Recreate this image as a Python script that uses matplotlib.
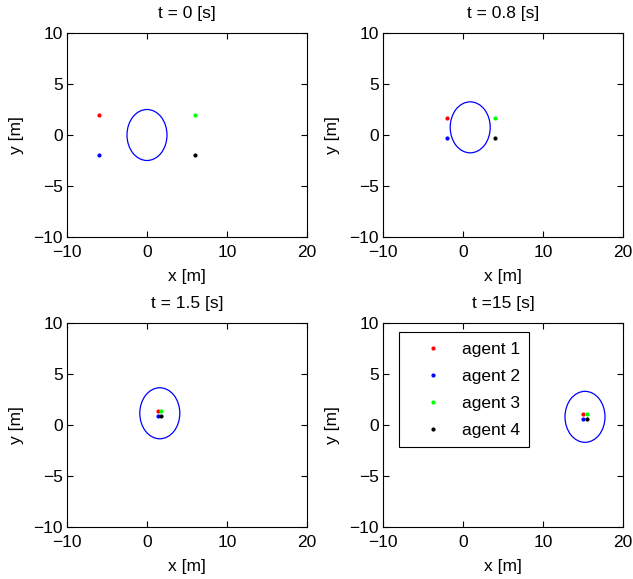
import numpy as np
import matplotlib
matplotlib.use('Agg')
import matplotlib.pyplot as plt
from matplotlib.patches import Ellipse

plt.rcParams['font.family'] = ['Liberation Sans', 'DejaVu Sans']

titles = ['t = 0 [s]', 't = 0.8 [s]', 't = 1.5 [s]', 't =15 [s]']
agent_names = ['agent 1', 'agent 2', 'agent 3', 'agent 4']
agent_colors = ['#ff0000', '#0000ff', '#00ff00', '#000000']

# agent positions per snapshot (x, y)
agents_x = [[-6, -6, 6, 6],
            [-2.0, -2.0, 4.0, 4.0],
            [1.4, 1.4, 1.75, 1.75],
            [15.0, 15.0, 15.5, 15.5]]
agents_y = [[2, -2, 2, -2],
            [1.7, -0.3, 1.7, -0.3],
            [1.4, 0.9, 1.4, 0.9],
            [1.1, 0.55, 1.1, 0.55]]

# circle centre per snapshot and radius
circle_cx = [0.0, 0.9, 1.6, 15.25]
circle_cy = [0.0, 0.75, 1.15, 0.8]
radius = 2.5

xticks = [-10, 0, 10, 20]
yticks = [-10, -5, 0, 5, 10]

fig = plt.figure(figsize=(6.33, 5.79), dpi=100)
W, H = 633, 579
boxes = [(67, 33), (383, 33), (67, 323), (383, 323)]

for k in range(4):
    l, t = boxes[k]
    ax = fig.add_axes([l/W, 1 - (t + 204)/H, 240/W, 204/H])
    ax.add_patch(Ellipse((circle_cx[k], circle_cy[k]), 2*radius, 2*radius,
                         fill=False, edgecolor='#0000ff', lw=0.9))
    for i in range(4):
        ax.plot(agents_x[k][i], agents_y[k][i], '.', color=agent_colors[i],
                ms=4, label=agent_names[i])
    ax.set_xlim(-10, 20)
    ax.set_ylim(-10, 10)
    ax.set_xticks(xticks)
    ax.set_yticks(yticks)
    ax.tick_params(direction='in', top=True, right=True, labelsize=12.5, length=4,
                   width=0.8)
    ax.tick_params(axis='x', pad=6)
    ax.tick_params(axis='y', pad=3)
    for s in ax.spines.values():
        s.set_linewidth(0.8)
    ax.set_title(titles[k], fontsize=12.5, pad=11)
    ax.set_xlabel('x [m]', fontsize=12.5, labelpad=6)
    ax.set_ylabel('y [m]', fontsize=12.5, labelpad=7)
    if k == 3:
        leg = ax.legend(loc='upper left', bbox_to_anchor=(16/240, 1 - 9/204),
                        borderaxespad=0, fontsize=12.5,
                        fancybox=False, framealpha=1, edgecolor='black',
                        handlelength=2.8, handletextpad=0.25, borderpad=0.55,
                        labelspacing=0.68, markerscale=1.0)
        leg.get_frame().set_linewidth(0.8)

fig.savefig('out.png', dpi=100)
